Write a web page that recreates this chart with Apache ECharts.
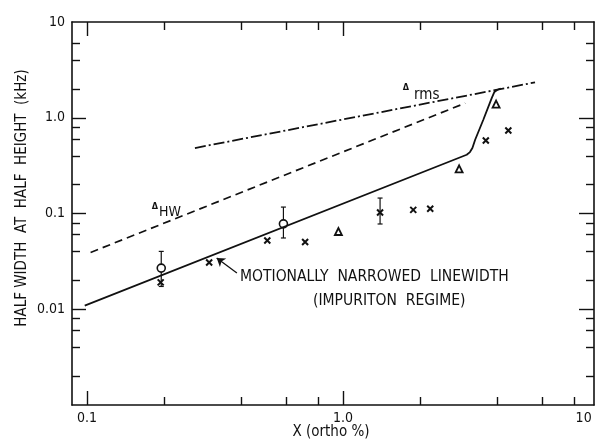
<!DOCTYPE html>
<html>
<head>
<meta charset="utf-8">
<script src="https://cdn.jsdelivr.net/npm/echarts@6/dist/echarts.min.js"></script>
<style>
  html, body { margin: 0; padding: 0; background: #fff; }
  #chart { width: 597px; height: 439px; }
</style>
</head>
<body>
<div id="chart"></div>
<script>
// axis ranges (real values, both axes logarithmic)
const xMin = 0.0874, xMax = 9.55
const yMin = 0.001, yMax = 10

const xMajorTicks = [0.1, 1]
const xMinorTicks = [0.2, 0.4, 0.6, 0.8, 2, 4, 6, 8]
const xLabelAt = [0.1, 1, 8.7]          // "10" sits at the clipped right edge
const xLabelText = ['0.1', '1.0', '10']

const yMajorTicks = [0.01, 0.1, 1]
const yMinorTicks = [6, 4, 2, 0.8, 0.6, 0.4, 0.2, 0.08, 0.06, 0.04, 0.02, 0.008, 0.006, 0.004, 0.002]
const yLabelAt = [0.01, 0.1, 1, 10]
const yLabelText = ['0.01', '0.1', '1.0', '10']

// motionally narrowed linewidth (solid)
const narrowX = [0.098, 3.04, 3.13, 3.20, 3.28, 3.53, 3.81, 3.90, 4.01, 4.13]
const narrowY = [0.0109, 0.411, 0.438, 0.483, 0.589, 0.953, 1.61, 1.86, 1.96, 2.01]
// delta HW (dashed)
const hwX = [0.1033, 3.0]
const hwY = [0.0392, 1.42]
// delta rms (dash-dot)
const rmsX = [0.264, 5.62]
const rmsY = [0.483, 2.34]

// measured points
const circleX = [0.195, 0.585]
const circleY = [0.0269, 0.078]
const crossX = [0.194, 0.30, 0.506, 0.711, 1.395, 1.88, 2.19, 3.61, 4.42]
const crossY = [0.0191, 0.0308, 0.0523, 0.0503, 0.1026, 0.109, 0.112, 0.579, 0.736]
const triX = [0.959, 2.84, 3.96]
const triY = [0.0649, 0.293, 1.39]
// error bars: x, low, high
const errX = [0.195, 0.585, 1.395]
const errLow = [0.0173, 0.0555, 0.0777]
const errHigh = [0.0402, 0.1167, 0.145]

// arrow from the label to the solid line
const arrowFrom = [0.385, 0.0239]
const arrowTo = [0.321, 0.0343]

const L = Math.log10
const pairs = (xs, ys) => xs.map((x, i) => [L(x), L(ys[i])])
const FONT = "'Liberation Sans Narrow', 'DejaVu Sans Condensed', 'Liberation Sans', sans-serif"
const INK = '#111'

const chart = echarts.init(document.getElementById('chart'))

function xAx(pos, ticks, len, withLine, labels) {
    return {
        type: 'value', position: pos, min: L(xMin), max: L(xMax),
        splitLine: { show: false },
        axisLine: { show: withLine, onZero: false, lineStyle: { color: INK, width: 1.6 } },
        axisTick: { show: true, inside: true, length: len, customValues: ticks.map(L), lineStyle: { color: INK, width: 1.4 } },
        axisLabel: labels ? {
            show: true, customValues: xLabelAt.map(L), margin: 6,
            color: INK, fontSize: 14, fontFamily: FONT,
            formatter: v => xLabelText[xLabelAt.findIndex(a => Math.abs(L(a) - v) < 1e-6)]
        } : { show: false }
    }
}
function yAx(pos, ticks, len, withLine, labels) {
    return {
        type: 'value', position: pos, min: L(yMin), max: L(yMax),
        splitLine: { show: false },
        axisLine: { show: withLine, onZero: false, lineStyle: { color: INK, width: 1.6 } },
        axisTick: { show: true, inside: true, length: len, customValues: ticks.map(L), lineStyle: { color: INK, width: 1.4 } },
        axisLabel: labels ? {
            show: true, customValues: yLabelAt.map(L), margin: 7,
            color: INK, fontSize: 14, fontFamily: FONT,
            formatter: v => yLabelText[yLabelAt.findIndex(a => Math.abs(L(a) - v) < 1e-6)]
        } : { show: false }
    }
}

const option = {
    animation: false,
    backgroundColor: '#fff',
    grid: { left: 72, right: 3, top: 22, bottom: 34 },
    xAxis: [
        xAx('bottom', xMajorTicks, 14, true, true),
        xAx('bottom', xMinorTicks, 8, false, false),
        xAx('top', xMajorTicks, 14, true, false),
        xAx('top', xMinorTicks, 8, false, false)
    ],
    yAxis: [
        yAx('left', yMajorTicks, 14, true, true),
        yAx('left', yMinorTicks, 8, false, false),
        yAx('right', yMajorTicks, 15, true, false),
        yAx('right', yMinorTicks, 8, false, false)
    ],
    graphic: [
        { type: 'text', x: 22, y: 198, rotation: Math.PI / 2,
          style: { text: 'HALF WIDTH  AT  HALF  HEIGHT  (kHz)', fill: INK, font: '15px ' + FONT, align: 'center', verticalAlign: 'middle' } },
        { type: 'text', x: 331, y: 432,
          style: { text: 'X (ortho %)', fill: INK, font: '15px ' + FONT, align: 'center', verticalAlign: 'middle' } },
        { type: 'text', x: 240, y: 277,
          style: { text: 'MOTIONALLY  NARROWED  LINEWIDTH', fill: INK, font: '15.5px ' + FONT, align: 'left', verticalAlign: 'middle' } },
        { type: 'text', x: 313, y: 301,
          style: { text: '(IMPURITON  REGIME)', fill: INK, font: '15.5px ' + FONT, align: 'left', verticalAlign: 'middle' } },
        { type: 'text', x: 155, y: 207,
          style: { text: 'Δ', fill: INK, font: 'bold 9px ' + FONT, align: 'center', verticalAlign: 'middle' } },
        { type: 'text', x: 159, y: 212,
          style: { text: 'HW', fill: INK, font: '14px ' + FONT, align: 'left', verticalAlign: 'middle' } },
        { type: 'text', x: 406, y: 88,
          style: { text: 'Δ', fill: INK, font: 'bold 9px ' + FONT, align: 'center', verticalAlign: 'middle' } },
        { type: 'text', x: 414, y: 95,
          style: { text: 'rms', fill: INK, font: '15px ' + FONT, align: 'left', verticalAlign: 'middle' } }
    ],
    series: [
        {
            name: 'narrowed', type: 'line', data: pairs(narrowX, narrowY),
            showSymbol: false, lineStyle: { color: INK, width: 1.8 },
            markLine: {
                silent: true, symbol: ['none', 'arrow'], symbolSize: 8,
                label: { show: false }, lineStyle: { color: INK, width: 1.3, type: 'solid' },
                emphasis: { disabled: true },
                data: [[{ coord: [L(arrowFrom[0]), L(arrowFrom[1])] }, { coord: [L(arrowTo[0]), L(arrowTo[1])] }]]
            }
        },
        {
            name: 'HW', type: 'line', data: pairs(hwX, hwY),
            showSymbol: false, lineStyle: { color: INK, width: 1.7, type: [8, 5] }
        },
        {
            name: 'rms', type: 'line', data: pairs(rmsX, rmsY),
            showSymbol: false, lineStyle: { color: INK, width: 1.8, type: [11, 3, 2, 3] }
        },
        {
            name: 'errors', type: 'custom',
            data: errX.map((x, i) => [L(x), L(errLow[i]), L(errHigh[i])]),
            renderItem: (params, api) => {
                const lo = api.coord([api.value(0), api.value(1)])
                const hi = api.coord([api.value(0), api.value(2)])
                const c = 2.5
                const st = { stroke: INK, lineWidth: 1.2 }
                return { type: 'group', children: [
                    { type: 'line', shape: { x1: lo[0], y1: lo[1], x2: hi[0], y2: hi[1] }, style: st },
                    { type: 'line', shape: { x1: hi[0] - c, y1: hi[1], x2: hi[0] + c, y2: hi[1] }, style: st },
                    { type: 'line', shape: { x1: lo[0] - c, y1: lo[1], x2: lo[0] + c, y2: lo[1] }, style: st }
                ] }
            }
        },
        {
            name: 'circles', type: 'scatter', data: pairs(circleX, circleY),
            symbol: 'circle', symbolSize: 8,
            itemStyle: { color: '#fff', borderColor: INK, borderWidth: 1.6, opacity: 1 }
        },
        {
            name: 'crosses', type: 'scatter', data: pairs(crossX, crossY),
            symbol: 'path://M0,0L10,10M10,0L0,10', symbolSize: 6,
            itemStyle: { color: 'none', borderColor: INK, borderWidth: 2, opacity: 1 }
        },
        {
            name: 'triangles', type: 'scatter', data: pairs(triX, triY),
            symbol: 'triangle', symbolSize: 7,
            itemStyle: { color: '#fff', borderColor: INK, borderWidth: 1.8, opacity: 1 }
        }
    ]
}
chart.setOption(option)

window.addEventListener('resize', () => {
    chart.resize()
})
</script>
</body>
</html>
